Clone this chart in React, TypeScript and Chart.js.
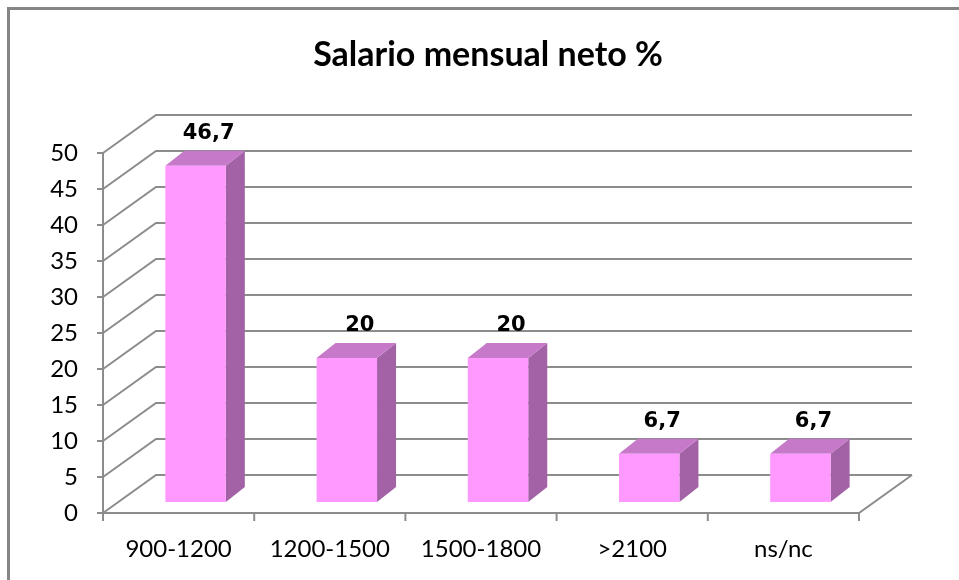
import React, { useEffect, useRef } from 'react';
import { Chart, registerables } from 'chart.js';

Chart.register(...registerables);

const chartTitle = 'Salario mensual neto %';
const categories = ['900-1200', '1200-1500', '1500-1800', '>2100', 'ns/nc'];
const values = [46.7, 20, 20, 6.7, 6.7];
const valueLabels = ['46,7', '20', '20', '6,7', '6,7'];
const yMin = 0;
const yMax = 50;
const yStep = 5;

const W = 959;
const H = 580;
const AREA = { left: 103, right: 859, top: 153, bottom: 513 };
const WALL = { dx: 53, dy: -38 };
const BAR_FRONT = { dx: 17, dy: -11 };
const BAR_BACK = { dx: 36, dy: -26 };
const GRID_COLOR = '#8c8c8c';
const FRONT_COLOR = '#FF99FF';
const TOP_COLOR = '#C679C8';
const SIDE_COLOR = '#A262A5';
const LABEL_FONT = 'Lato, "Open Sans", sans-serif';

const excel3d = {
  id: 'excel3d',
  beforeDraw(chart: any) {
    const ctx = chart.ctx;
    ctx.save();
    ctx.fillStyle = '#ffffff';
    ctx.fillRect(0, 0, chart.width, chart.height);
    ctx.fillStyle = '#868686';
    ctx.fillRect(7, 7, 3, chart.height - 7);
    ctx.fillRect(7, 7, chart.width - 7, 3);
    ctx.fillStyle = '#000';
    ctx.font = 'bold 34px ' + LABEL_FONT;
    ctx.textAlign = 'center';
    ctx.textBaseline = 'alphabetic';
    ctx.fillText(chartTitle, 488, 66);
    ctx.restore();
  },
  beforeDatasetsDraw(chart: any) {
    const ctx = chart.ctx;
    const xs = chart.scales.x;
    const ys = chart.scales.y;
    const left = chart.chartArea.left;
    const right = chart.chartArea.right;
    const y0 = ys.getPixelForValue(yMin);
    const yTopV = ys.getPixelForValue(yMax);
    ctx.save();
    ctx.strokeStyle = GRID_COLOR;
    ctx.lineWidth = 2;
    ctx.lineJoin = 'miter';
    for (let v = yMin; v <= yMax; v += yStep) {
      const yf = ys.getPixelForValue(v);
      ctx.beginPath();
      ctx.moveTo(left, yf);
      ctx.lineTo(left + WALL.dx, yf + WALL.dy);
      ctx.lineTo(right + WALL.dx, yf + WALL.dy);
      ctx.stroke();
      ctx.beginPath();
      ctx.moveTo(left - 6, yf);
      ctx.lineTo(left, yf);
      ctx.stroke();
    }
    ctx.beginPath();
    ctx.moveTo(left, y0);
    ctx.lineTo(right, y0);
    ctx.lineTo(right + WALL.dx, y0 + WALL.dy);
    ctx.stroke();
    ctx.beginPath();
    ctx.moveTo(left, yTopV);
    ctx.lineTo(left, y0 + 1);
    ctx.stroke();
    const step = xs.getPixelForValue(1) - xs.getPixelForValue(0);
    for (let i = 0; i <= categories.length; i++) {
      const bx = xs.getPixelForValue(0) - step / 2 + i * step;
      ctx.beginPath();
      ctx.moveTo(bx, y0);
      ctx.lineTo(bx, y0 + 8);
      ctx.stroke();
    }
    ctx.restore();
  },
  afterDatasetsDraw(chart: any) {
    const ctx = chart.ctx;
    const ys = chart.scales.y;
    const meta = chart.getDatasetMeta(0);
    const yBase = ys.getPixelForValue(yMin);
    const sdx = BAR_BACK.dx - BAR_FRONT.dx;
    const sdy = BAR_BACK.dy - BAR_FRONT.dy;
    ctx.save();
    meta.data.forEach((el: any, i: number) => {
      const p = el.getProps(['x', 'width'], true);
      const yTop = ys.getPixelForValue(values[i]);
      const fl = p.x - p.width / 2 + BAR_FRONT.dx;
      const fr = p.x + p.width / 2 + BAR_FRONT.dx;
      const ft = yTop + BAR_FRONT.dy;
      const fb = yBase + BAR_FRONT.dy;
      ctx.fillStyle = SIDE_COLOR;
      ctx.beginPath();
      ctx.moveTo(fr, ft);
      ctx.lineTo(fr + sdx, ft + sdy);
      ctx.lineTo(fr + sdx, fb + sdy);
      ctx.lineTo(fr, fb);
      ctx.closePath();
      ctx.fill();
      ctx.fillStyle = TOP_COLOR;
      ctx.beginPath();
      ctx.moveTo(fl, ft);
      ctx.lineTo(fl + sdx, ft + sdy);
      ctx.lineTo(fr + sdx, ft + sdy);
      ctx.lineTo(fr, ft);
      ctx.closePath();
      ctx.fill();
      ctx.fillStyle = FRONT_COLOR;
      ctx.fillRect(fl, ft, fr - fl, fb - ft);
      ctx.fillStyle = '#000';
      ctx.font = 'bold 21px "DejaVu Sans", Verdana, sans-serif';
      ctx.textAlign = 'center';
      ctx.textBaseline = 'middle';
      ctx.fillText(valueLabels[i], (fl + fr) / 2 + 13, ft + sdy - 17);
    });
    ctx.restore();
  },
};

export default function App() {
  const ref = useRef<HTMLCanvasElement | null>(null);
  useEffect(() => {
    if (!ref.current) return;
    const padLeft = 10;
    const chart = new Chart(ref.current, {
      type: 'bar',
      data: {
        labels: categories,
        datasets: [
          {
            data: values,
            backgroundColor: 'rgba(0,0,0,0)',
            borderWidth: 0,
            categoryPercentage: 1,
            barPercentage: 0.4,
          },
        ],
      },
      options: {
        responsive: false,
        animation: false,
        devicePixelRatio: 1,
        layout: {
          padding: {
            left: padLeft,
            right: W - AREA.right,
            top: AREA.top,
            bottom: 0,
          },
        },
        plugins: {
          legend: { display: false },
          tooltip: { enabled: false },
          title: { display: false },
        },
        scales: {
          x: {
            type: 'category',
            grid: { display: false, drawTicks: false },
            border: { display: false },
            ticks: {
              color: '#000',
              font: { family: LABEL_FONT, size: 24 },
              padding: 22,
              maxRotation: 0,
              autoSkip: false,
            },
            afterFit: (s: any) => {
              s.height = H - AREA.bottom;
            },
          },
          y: {
            type: 'linear',
            min: yMin,
            max: yMax,
            grid: { display: false, drawTicks: false },
            border: { display: false },
            ticks: {
              stepSize: yStep,
              color: '#000',
              font: { family: LABEL_FONT, size: 24 },
              padding: 25,
            },
            afterFit: (s: any) => {
              s.width = AREA.left - padLeft;
            },
          },
        },
      },
      plugins: [excel3d],
    } as any);
    return () => chart.destroy();
  }, []);
  return (
    <div style={{ position: 'fixed', left: 0, top: 0, width: W, height: H, background: '#fff' }}>
      <canvas ref={ref} width={W} height={H} style={{ width: W, height: H, display: 'block' }} />
    </div>
  );
}
